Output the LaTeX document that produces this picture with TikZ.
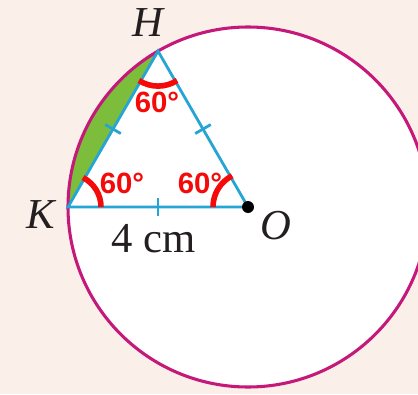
\documentclass[tikz,border=0pt]{standalone}
\usepackage{fontspec}
\usetikzlibrary{calc}
\setmainfont{Liberation Serif}
\newfontfamily\anglefont{Liberation Sans}[BoldFont=Liberation Sans Bold]
\begin{document}
\begin{tikzpicture}[x=0.75pt,y=0.75pt,
  seg/.style={draw=triblue,line width=2.1pt},
  tickmark/.style={draw=triblue,line width=2.1pt},
  anglearc/.style={draw=angred,line width=4.2pt},
  anglelbl/.style={text=angred,font=\anglefont\bfseries\fontsize{22}{24}\selectfont,inner sep=0pt},
  ptlbl/.style={font=\itshape\fontsize{32}{34}\selectfont,inner sep=0pt,text=labelgray},
]
\definecolor{bgbeige}{RGB}{251,240,233}
\definecolor{triblue}{RGB}{38,164,212}
\definecolor{circmag}{RGB}{196,24,122}
\definecolor{angred}{RGB}{245,10,10}
\definecolor{seggreen}{RGB}{124,190,60}
\definecolor{labelgray}{RGB}{35,31,32}
\useasboundingbox (0,0) rectangle (418,394);
\clip (0,0) rectangle (418,394);
\fill[bgbeige] (0,0) rectangle (418,394);
\coordinate (O) at (248,187);
\coordinate (K) at (68,187);
\coordinate (H) at (158,342.9);
% circle
\fill[white] (O) circle[radius=180];
% green segment
\fill[seggreen] (H) arc[start angle=120,end angle=180,radius=180] -- cycle;
\draw[circmag,line width=2.3pt] (O) circle[radius=180];
% triangle
\draw[seg] (K) -- (O) -- (H) -- cycle;
% ticks
\coordinate (mKO) at ($(K)!0.5!(O)$);
\coordinate (mKH) at ($(K)!0.5!(H)$);
\coordinate (mHO) at ($(H)!0.5!(O)$);
\draw[tickmark] ($(mKO)+(0,-9)$) -- ($(mKO)+(0,9)$);
\draw[tickmark] ($(mKH)+(150:9)$) -- ($(mKH)+(-30:9)$);
\draw[tickmark] ($(mHO)+(30:9)$) -- ($(mHO)+(210:9)$);
% angle arcs
\draw[anglearc] ($(K)+(0:33)$) arc[start angle=0,end angle=63,radius=33];
\draw[anglearc] ($(O)+(117:35)$) arc[start angle=117,end angle=180,radius=35];
\draw[anglearc] ($(H)+(237:35)$) arc[start angle=237,end angle=303,radius=35];
% point O
\fill[black] (O) circle[radius=6];
% labels
\node[anglelbl] (aH) at (157,292) {60°};
\node[anglelbl] (aK) at (122,211) {60°};
\node[anglelbl] (aO) at (200,211) {60°};
\node[ptlbl] (lH) at (148,371) {H};
\node[ptlbl] (lK) at (41,179.5) {K};
\node[ptlbl] (lO) at (276,168) {O};
\node[font=\fontsize{32}{34}\selectfont,inner sep=0pt,text=labelgray] (lcm) at (154,155) {4 cm};
\end{tikzpicture}
\end{document}
